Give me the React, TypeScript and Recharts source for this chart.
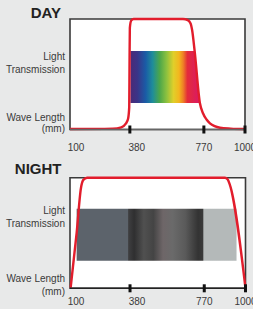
import React from "react";
import { ComposedChart, Line, Area, XAxis, YAxis, ReferenceArea, CartesianGrid } from "recharts";

// wavelength axis ticks
const TICK_WL = [100, 380, 770, 1000];
const TICK_LABELS = ["100", "380", "770", "1000"];
// where each tick sits along the (non-linear) printed axis, 0..1
const TICK_POS = [0, 0.342, 0.765, 1];
const TICK_LABEL_DX = [6, 7, 0, 0];

// day: light transmission (%) by wavelength
const DAY_WL = [100, 300, 340, 362, 372, 377, 378.5, 380, 387, 400, 660, 685, 700, 708, 722, 749, 766, 785, 804, 830, 860, 920, 1000];
const DAY_T = [0.4, 0.8, 2, 5.5, 10, 20, 60, 92, 98.5, 100, 100, 99, 96, 90, 70, 24, 14.5, 9, 5.6, 3, 1.6, 0.8, 0.4];
// visible spectrum band (inside the curve)
const DAY_BAND_WL = [383, 722, 749];
const DAY_BAND_LOW = [24, 24, 24];
const DAY_BAND_HIGH = [71, 71, 24];

// night
const NIGHT_WL = [103, 131, 151, 162, 180, 885, 900, 912, 1000];
const NIGHT_T = [0.5, 50, 90.5, 98, 100, 100, 98.5, 94, 0];
const NIGHT_BAND_WL = [131, 950];
const NIGHT_BAND_LOW = [25, 25];
const NIGHT_BAND_HIGH = [72, 72];

const warp = (wl: number) => {
  for (let i = 0; i < TICK_WL.length - 1; i++) {
    if (wl <= TICK_WL[i + 1]) {
      const f = (wl - TICK_WL[i]) / (TICK_WL[i + 1] - TICK_WL[i]);
      return TICK_POS[i] + f * (TICK_POS[i + 1] - TICK_POS[i]);
    }
  }
  return 1;
};

function buildData(wl: number[], t: number[], bandWl: number[], low: number[], high: number[]) {
  const rows: any[] = [];
  wl.forEach((w, i) => rows.push({ pos: warp(w), t: t[i] }));
  bandWl.forEach((w, i) => rows.push({ pos: warp(w), band: [low[i], high[i]] }));
  return rows.sort((a, b) => a.pos - b.pos);
}

const dayData = buildData(DAY_WL, DAY_T, DAY_BAND_WL, DAY_BAND_LOW, DAY_BAND_HIGH);
const nightData = buildData(NIGHT_WL, NIGHT_T, NIGHT_BAND_WL, NIGHT_BAND_LOW, NIGHT_BAND_HIGH);

const FONT = "'Liberation Sans', Arial, sans-serif";
const TEXT = "#3a3a3a";
const RED = "#e21d2c";

function makeTick(labelDy: number) {
  return function WaveTick(props: any) {
    const { x, y, index } = props;
    return (
      <g>
        {index > 0 && <rect x={x - 1.5} y={y - 4} width={3} height={8} fill="#111" />}
        <text x={x + TICK_LABEL_DX[index]} y={y + labelDy} textAnchor="middle" fontSize={10} fontFamily={FONT} fill={TEXT}>
          {TICK_LABELS[index]}
        </text>
      </g>
    );
  };
}

function Panel(props: {
  top: number;
  height: number;
  margin: any;
  axisHeight: number;
  data: any[];
  gradId: string;
  stops: [number, string][];
  labelDy: number;
  axisColor: string;
}) {
  const { top, height, margin, axisHeight, data, gradId, stops, labelDy, axisColor } = props;
  return (
    <div style={{ position: "absolute", left: 0, top }}>
      <ComposedChart width={253} height={height} data={data} margin={margin}>
        <defs>
          <linearGradient id={gradId} x1="0" y1="0" x2="1" y2="0">
            {stops.map(([o, c], i) => (
              <stop key={i} offset={o} stopColor={c} />
            ))}
          </linearGradient>
        </defs>
        <CartesianGrid fill="#ffffff" horizontal={false} vertical={false} />
        <XAxis
          dataKey="pos"
          type="number"
          domain={[0, 1]}
          ticks={TICK_WL.map(warp)}
          height={axisHeight}
          tickSize={0}
          tickMargin={0}
          tickLine={false}
          axisLine={{ stroke: axisColor, strokeWidth: 1.5 }}
          tick={makeTick(labelDy)}
          interval={0}
        />
        <YAxis hide domain={[0, 100]} type="number" />
        <ReferenceArea x1={0} x2={1} y1={0} y2={100} fill="none" stroke="#3a3a3a" strokeWidth={1.6} ifOverflow="visible" />
        <Area
          dataKey="band"
          type="linear"
          stroke="none"
          fill={`url(#${gradId})`}
          fillOpacity={1}
          connectNulls
          isAnimationActive={false}
        />
        <Line
          dataKey="t"
          type="monotone"
          stroke={RED}
          strokeWidth={2.4}
          dot={false}
          connectNulls
          isAnimationActive={false}
        />
      </ComposedChart>
    </div>
  );
}

function Label(props: { text: string; cy: number; right?: number; size?: number; bold?: boolean; color?: string }) {
  const { text, cy, right = 65, size = 10, bold = false, color = TEXT } = props;
  const lh = size + 2;
  return (
    <div
      style={{
        position: "absolute",
        left: 0,
        width: right,
        top: cy - lh / 2,
        lineHeight: `${lh}px`,
        fontSize: size,
        fontWeight: bold ? 700 : 400,
        fontFamily: FONT,
        color,
        textAlign: "right",
        whiteSpace: "nowrap",
      }}
    >
      {text}
    </div>
  );
}

const DAY_STOPS: [number, string][] = [
  [0, "#4b2a76"],
  [0.1, "#3a3488"],
  [0.22, "#1a5ca6"],
  [0.32, "#1f8d9a"],
  [0.42, "#4ca64a"],
  [0.52, "#8cc13f"],
  [0.62, "#e0cf2a"],
  [0.7, "#f3b61e"],
  [0.76, "#ee7f26"],
  [0.82, "#e42c3a"],
  [1, "#d81868"],
];

const NIGHT_STOPS: [number, string][] = [
  [0, "#5c636b"],
  [0.32, "#5c636b"],
  [0.325, "#3e3e40"],
  [0.36, "#2f2f30"],
  [0.42, "#505050"],
  [0.48, "#444444"],
  [0.54, "#6e6668"],
  [0.6, "#6a6a6a"],
  [0.68, "#5a5a5a"],
  [0.76, "#333333"],
  [0.79, "#3a3a3a"],
  [0.795, "#b4b9b9"],
  [1, "#b4b9b9"],
];

export default function App() {
  return (
    <div style={{ position: "absolute", left: 0, top: 0, width: 253, height: 309, background: "#e8e9e9", overflow: "hidden" }}>
      <Label text="DAY" cy={12.5} right={61} size={15} bold color="#222" />
      <Label text="Light" cy={56.7} />
      <Label text="Transmission" cy={70} />
      <Label text="Wave Length" cy={118.3} />
      <Label text="(mm)" cy={129.3} />
      <Panel
        top={0}
        height={155}
        margin={{ top: 19, right: 8, left: 70, bottom: 5.5 }}
        axisHeight={20}
        data={dayData}
        gradId="dayGrad"
        stops={DAY_STOPS}
        labelDy={21}
        axisColor="#666"
      />
      <Label text="NIGHT" cy={168.3} right={61.5} size={15} bold color="#222" />
      <Label text="Light" cy={211} />
      <Label text="Transmission" cy={224} />
      <Label text="Wave Length" cy={279} />
      <Label text="(mm)" cy={291.7} />
      <Panel
        top={155}
        height={154}
        margin={{ top: 22.7, right: 7.5, left: 70, bottom: 4.7 }}
        axisHeight={16}
        data={nightData}
        gradId="nightGrad"
        stops={NIGHT_STOPS}
        labelDy={17}
        axisColor="#222"
      />
    </div>
  );
}
